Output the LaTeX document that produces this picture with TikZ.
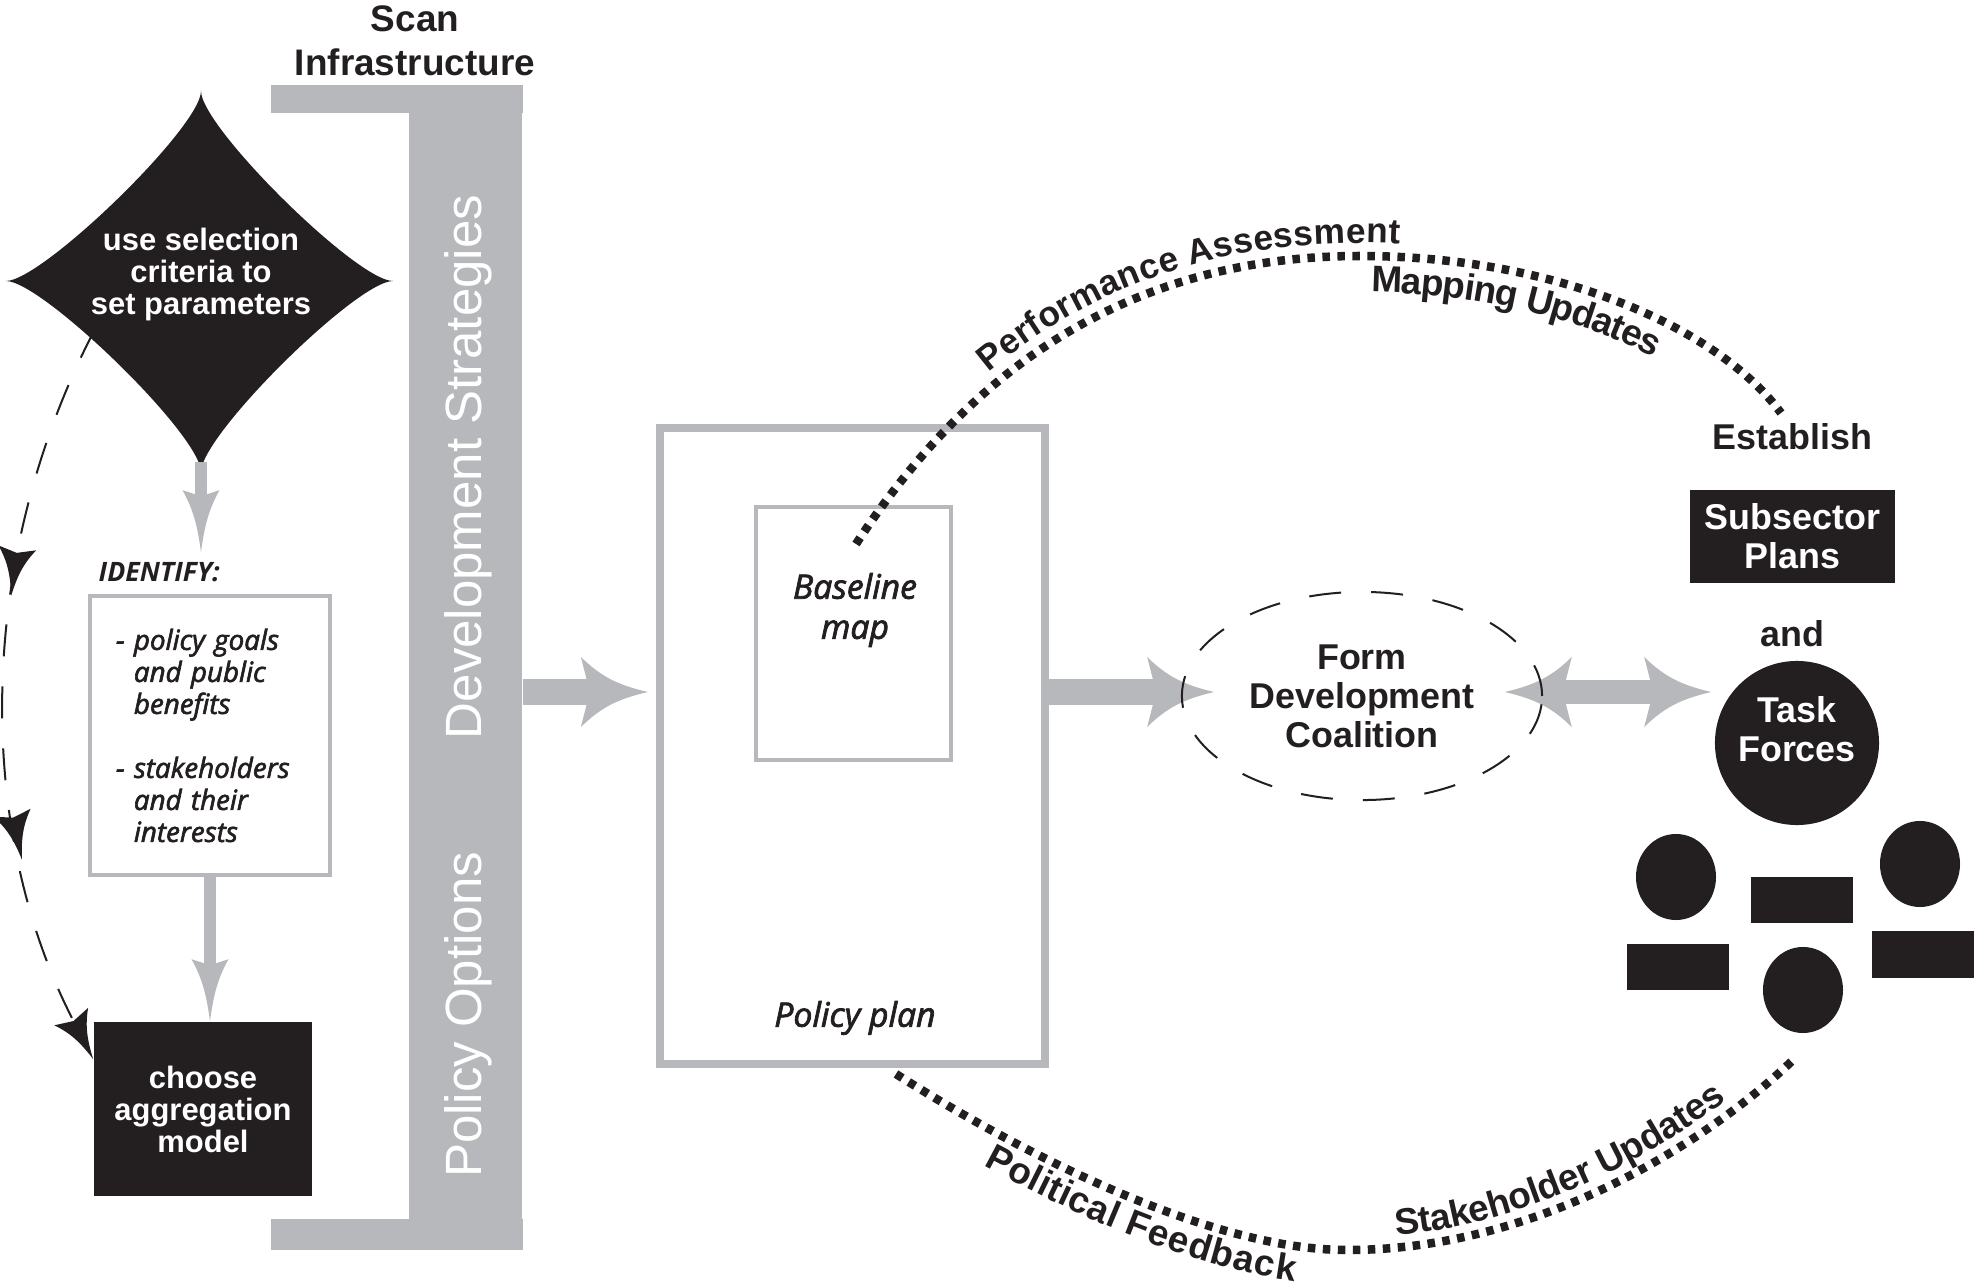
\documentclass[tikz,border=0pt]{standalone}
\usepackage{fontspec}
\setmainfont{Liberation Sans}
\newfontfamily\slantfont{Open Sans}[ItalicFeatures={FakeBold=2.2}]
\usetikzlibrary{arrows.meta, positioning, shapes.geometric, decorations.text, decorations.markings}

\definecolor{ink}{HTML}{231F20}
\definecolor{steel}{HTML}{B7B8BC}
\newcommand{\arcfont}{\bfseries\fontsize{10.5}{12}\selectfont}

% arrow head with hollow-curved sides
\pgfdeclarearrow{
  name = Fin,
  parameters = {\the\pgfarrowlength,\the\pgfarrowwidth,\the\pgfarrowinset},
  setup code = {
    \pgfarrowssettipend{\pgfarrowlength}
    \pgfarrowssetlineend{\pgfarrowinset}
    \pgfarrowssetvisualbackend{\pgfarrowinset}
    \pgfarrowssetbackend{0pt}
    \pgfarrowshullpoint{\pgfarrowlength}{0pt}
    \pgfarrowsupperhullpoint{0pt}{.5\pgfarrowwidth}
    \pgfarrowssavethe\pgfarrowlength
    \pgfarrowssavethe\pgfarrowwidth
    \pgfarrowssavethe\pgfarrowinset
  },
  drawing code = {
    \pgfpathmoveto{\pgfqpoint{\pgfarrowlength}{0pt}}
    \pgfpathcurveto{\pgfqpoint{.55\pgfarrowlength}{.1\pgfarrowwidth}}{\pgfqpoint{.3\pgfarrowlength}{.22\pgfarrowwidth}}{\pgfqpoint{0pt}{.5\pgfarrowwidth}}
    \pgfpathlineto{\pgfqpoint{\pgfarrowinset}{0pt}}
    \pgfpathlineto{\pgfqpoint{0pt}{-.5\pgfarrowwidth}}
    \pgfpathcurveto{\pgfqpoint{.3\pgfarrowlength}{-.22\pgfarrowwidth}}{\pgfqpoint{.55\pgfarrowlength}{-.1\pgfarrowwidth}}{\pgfqpoint{\pgfarrowlength}{0pt}}
    \pgfpathclose
    \pgfusepathqfill
  },
  defaults = {length=5mm, width=5mm, inset=1mm}
}

\begin{document}
\begin{tikzpicture}[
x=0.01cm, y=-0.01cm,
heavy/.style={font=\bfseries\fontsize{10.2}{11.1}\selectfont, text=ink, align=center, inner sep=0pt},
heavysmall/.style={font=\bfseries\fontsize{8.8}{9.1}\selectfont, text=white, align=center, inner sep=0pt},
slanted/.style={font=\slantfont\itshape\fontsize{9.6}{11.4}\selectfont, text=ink, align=center, inner sep=0pt},
bartext/.style={font=\fontsize{14.5}{16}\selectfont, text=white, rotate=90, inner sep=0pt},
blackbox/.style={fill=ink, inner sep=0pt},
greybox/.style={draw=steel, fill=white, inner sep=0pt},
blob/.style={ellipse, fill=ink, minimum width=0.8cm, minimum height=0.86cm, inner sep=0pt},
desk/.style={blackbox, minimum width=1.02cm, minimum height=0.46cm},
fattip/.tip={Fin[length=0.67cm, width=0.7cm, inset=0.09cm]},
thintip/.tip={Fin[length=0.62cm, width=0.37cm, inset=0.06cm]},
looptip/.tip={Fin[length=0.48cm, width=0.38cm, inset=0.05cm]},
fatarrow/.style={draw=steel, line width=0.25cm, -fattip},
twoway/.style={draw=steel, line width=0.23cm, fattip-fattip},
thinarrow/.style={draw=steel, line width=0.12cm, -thintip},
dots/.style={draw=ink, line width=0.085cm, dash pattern=on 0.075cm off 0.075cm},
dashes/.style={draw=ink, line width=0.02cm, dash pattern=on 0.32cm off 0.3cm}
]

\useasboundingbox (0,0) rectangle (1974,1285);

% scan bracket
\node[fill=steel, minimum width=1.13cm, minimum height=11.63cm, inner sep=0pt] (bar) at (465.5,667.5) {};
\fill[steel] (271,113) rectangle (bar.north east);
\fill[steel] (271,1219) rectangle (bar.south east);
\node[heavy, font=\bfseries\fontsize{10.5}{12.5}\selectfont] (scan) at (415,41) {Scan\\Infrastructure};
\node[bartext] (strategies) at (468,467) {Development Strategies};
\node[bartext] (options) at (468,1015) {Policy Options};

% left column
\fill[ink] (201,91) .. controls (201,127) and (357,281) .. (393,281)
  .. controls (357,281) and (201,435) .. (201,472)
  .. controls (201,435) and (42,281) .. (6,281)
  .. controls (42,281) and (201,127) .. (201,91) -- cycle;
\node[heavysmall] (select) at (201,275) {use selection\\criteria to\\set parameters};
\coordinate (selecttip) at (201,462);

\node[slanted, font=\slantfont\bfseries\itshape\fontsize{7.6}{9}\selectfont, anchor=base west] (idlabel) at (98,582) {IDENTIFY:};
\node[greybox, line width=0.04cm, minimum width=2.4cm, minimum height=2.79cm, text width=1.88cm, inner xsep=0.26cm, align=left, font=\slantfont\itshape\fontsize{7.9}{9.1}\selectfont, text=ink] (identify) at (210,735.5)
{- policy goals\\\phantom{- }and public\\\phantom{- }benefits\\[9.1pt]- stakeholders\\\phantom{- }and their\\\phantom{- }interests};

\node[blackbox, heavysmall, minimum width=2.18cm, minimum height=1.74cm] (choose) at (203,1109) {choose\\aggregation\\model};

\draw[thinarrow, shorten >=0.1cm] (selecttip) -- (selecttip |- idlabel.north);
\draw[thinarrow] (identify.south) -- (identify.south |- choose.north);

\coordinate (loopstart) at (95,329);
\draw[dashes, -looptip, decoration={markings, mark=at position 0.37 with {\arrow{looptip}}, mark=at position 0.72 with {\arrow{looptip}}}, postaction={decorate}]
  (loopstart) .. controls (-25,560) and (-25,830) .. ([yshift=-0.38cm]choose.north west);

% policy plan
\node[greybox, line width=0.08cm, minimum width=3.85cm, minimum height=6.36cm] (plan) at (852.5,746) {};
\node[greybox, line width=0.035cm, minimum width=1.95cm, minimum height=2.53cm] (basemap) at (853.5,633.5) {};
\node[slanted] (maptitle) at (855,610) {Baseline\\map};
\node[slanted] (plantitle) at (855,1018) {Policy plan};

% coalition and task forces
\node[ellipse, heavy, minimum width=3.6cm, minimum height=2.08cm] (coalition) at (1362,696) {Form\\Development\\Coalition};
\node[blackbox, heavy, text=white, minimum width=2.05cm, minimum height=0.93cm] (subsector) at (1792.5,536.5) {Subsector\\Plans};
\node[heavy, above=0.39cm of subsector] (establish) {Establish};
\node[heavy, below=0.36cm of subsector] (joiner) {and};
\node[circle, fill=ink, minimum size=1.64cm, inner sep=0pt] (tasks) at (1797,743) {};
\node[heavy, text=white] (taskstitle) at (1797,729) {Task\\Forces};

\node[blob] (memberA) at (1676,877) {};
\node[blob] (memberB) at (1920,864) {};
\node[blob] (memberC) at (1803,990) {};
\node[desk] (deskA) at (1802,900) {};
\node[desk] (deskB) at (1678,967) {};
\node[desk] (deskC) at (1923,954.5) {};

% big arrows
\coordinate (row) at (0,692);
\draw[fatarrow, shorten >=0.08cm] (bar.east |- row) -- (plan.west |- row);
\draw[fatarrow, shorten >=-0.33cm] (plan.east |- row) -- (coalition.west |- row);
\draw[twoway, shorten <=-0.38cm, shorten >=0.03cm] (coalition.east |- row) -- (tasks.west |- row);
\node[ellipse, dashes, minimum width=3.6cm, minimum height=2.08cm] (coalitionrim) at (coalition) {};

% feedback loops
\coordinate (topstart) at (856,544);
\coordinate (toppeak) at (1360,256);
\coordinate (topend) at (1781,413);
\draw[dots] (topstart) .. controls (950,400) and (1100,256) .. (toppeak) .. controls (1560,256) and (1720,330) .. (topend);
\path[decorate, decoration={text along path, text={|\bfseries\fontsize{10}{12}\selectfont|Performance Assessment}, text color=ink, text align={left indent=2.15cm}, raise=0.13cm}]
  (topstart) .. controls (950,400) and (1100,256) .. (toppeak) .. controls (1560,256) and (1720,330) .. (topend);
\path[decorate, decoration={text along path, text={|\arcfont|Mapping Updates}, text color=ink, text align={left indent=6.2cm}, raise=-0.36cm}]
  (topstart) .. controls (950,400) and (1100,256) .. (toppeak) .. controls (1560,256) and (1720,330) .. (topend);

\coordinate (lowstart) at (896,1074);
\coordinate (lowdip) at (1347,1250);
\coordinate (lowend) at (1792,1061);
\draw[dots] (lowstart) .. controls (1000,1140) and (1200,1250) .. (lowdip) .. controls (1550,1250) and (1720,1130) .. (lowend);
\path[decorate, decoration={text along path, text={|\arcfont|Political Feedback}, text color=ink, text align={left indent=1.2cm}, raise=-0.35cm}]
  (lowstart) .. controls (1000,1140) and (1200,1250) .. (lowdip) .. controls (1550,1250) and (1720,1130) .. (lowend);
\path[decorate, decoration={text along path, text={|\arcfont|Stakeholder Updates}, text color=ink, text align={left indent=5.4cm}, raise=0.12cm}]
  (lowstart) .. controls (1000,1140) and (1200,1250) .. (lowdip) .. controls (1550,1250) and (1720,1130) .. (lowend);

\end{tikzpicture}
\end{document}
